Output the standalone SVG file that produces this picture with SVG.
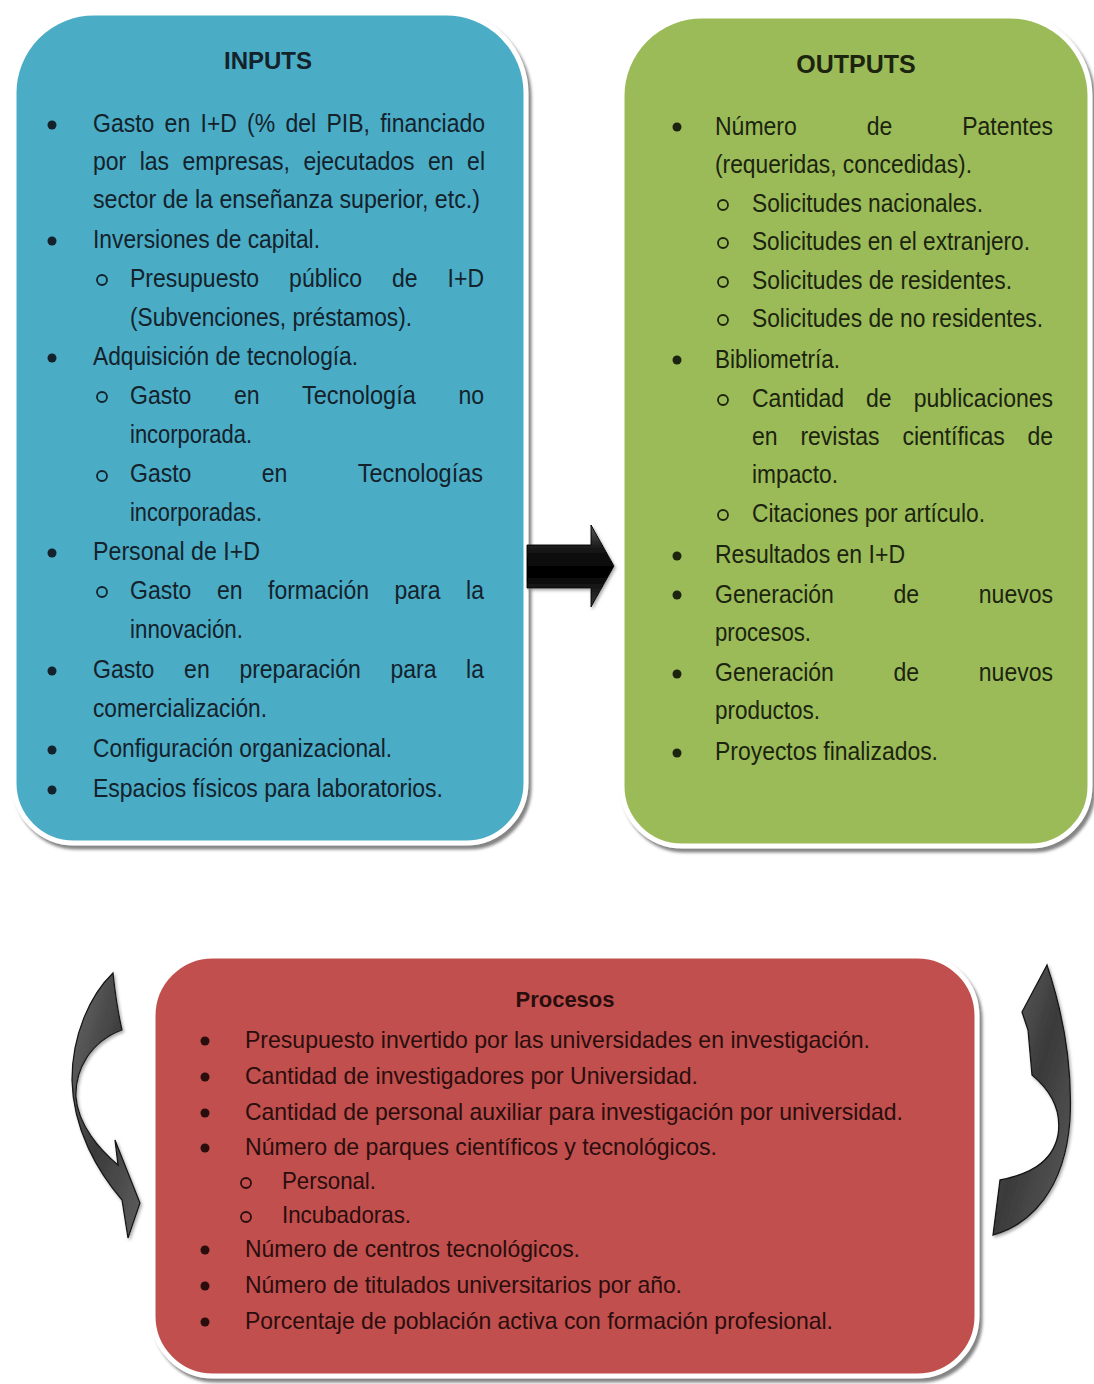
<svg xmlns="http://www.w3.org/2000/svg" width="1094" height="1384" viewBox="0 0 1094 1384">
<style>
.t{font-family:"Liberation Sans",Arial,sans-serif;font-size:25px}
.tp{font-family:"Liberation Sans",Arial,sans-serif;font-size:24px}
.h{font-family:"Liberation Sans",Arial,sans-serif;font-weight:bold;text-anchor:middle}
.bi{fill:#13222b}
.bo{fill:#1c2410}
.bp{fill:#2a0d0d}
.box{stroke:#ffffff;stroke-width:5;filter:url(#sh)}
.sub{fill:none;stroke-width:1.8}
.curv{fill:url(#cg);stroke:#151515;stroke-width:1.3;filter:url(#sh2)}
</style>
<defs>
<filter id="sh" x="-5%" y="-5%" width="110%" height="110%">
<feDropShadow dx="3" dy="4" stdDeviation="1.8" flood-color="#6e6e6e" flood-opacity="0.85"/>
</filter>
<filter id="sh2" x="-20%" y="-10%" width="140%" height="120%">
<feDropShadow dx="1.5" dy="2" stdDeviation="1.5" flood-color="#888" flood-opacity="0.7"/>
</filter>
<linearGradient id="ag" x1="0" y1="0" x2="0" y2="1">
<stop offset="0" stop-color="#5a5a5a"/>
<stop offset="0.3" stop-color="#141414"/>
<stop offset="0.6" stop-color="#000"/>
<stop offset="1" stop-color="#3a3a3a"/>
</linearGradient>
<linearGradient id="cg" x1="0" y1="0" x2="1" y2="1">
<stop offset="0" stop-color="#6a6a6a"/>
<stop offset="0.5" stop-color="#3a3a3a"/>
<stop offset="1" stop-color="#5e5e5e"/>
</linearGradient>
</defs>
<rect width="1094" height="1384" fill="#ffffff"/>

<g id="inputs">
<path class="box" fill="#4bacc6" d="M94,13 H446 A80,80 0 0 1 526,93 V783 A60,60 0 0 1 466,843 H74 A60,60 0 0 1 14,783 V93 A80,80 0 0 1 94,13 Z"/>
<text class="h bi" x="268" y="69" font-size="24">INPUTS</text>
<g class="bi">
<circle cx="52" cy="125" r="4.5"/><circle cx="52" cy="241" r="4.5"/><circle cx="52" cy="358" r="4.5"/><circle cx="52" cy="553" r="4.5"/><circle cx="52" cy="671" r="4.5"/><circle cx="52" cy="750" r="4.5"/><circle cx="52" cy="790" r="4.5"/>
</g>
<g stroke="#13222b" class="sub">
<circle cx="102" cy="280" r="5"/><circle cx="102" cy="397" r="5"/><circle cx="102" cy="476" r="5"/><circle cx="102" cy="592" r="5"/>
</g>
<g class="t bi" lengthAdjust="spacingAndGlyphs">
<text x="93" y="132" textLength="61.4" lengthAdjust="spacingAndGlyphs">Gasto</text><text x="164.6" y="132" textLength="25.6" lengthAdjust="spacingAndGlyphs">en</text><text x="200.5" y="132" textLength="36.4" lengthAdjust="spacingAndGlyphs">I+D</text><text x="247.1" y="132" textLength="28.1" lengthAdjust="spacingAndGlyphs">(%</text><text x="285.5" y="132" textLength="30.7" lengthAdjust="spacingAndGlyphs">del</text><text x="326.4" y="132" textLength="43.5" lengthAdjust="spacingAndGlyphs">PIB,</text><text x="380.2" y="132" textLength="104.8" lengthAdjust="spacingAndGlyphs">financiado</text>
<text x="93" y="170" textLength="33.2" lengthAdjust="spacingAndGlyphs">por</text><text x="139.7" y="170" textLength="29.4" lengthAdjust="spacingAndGlyphs">las</text><text x="182.5" y="170" textLength="107.4" lengthAdjust="spacingAndGlyphs">empresas,</text><text x="303.4" y="170" textLength="111.2" lengthAdjust="spacingAndGlyphs">ejecutados</text><text x="428" y="170" textLength="25.6" lengthAdjust="spacingAndGlyphs">en</text><text x="467.1" y="170" textLength="17.9" lengthAdjust="spacingAndGlyphs">el</text>
<text x="93" y="208" textLength="387" lengthAdjust="spacingAndGlyphs">sector de la enseñanza superior, etc.)</text>
<text x="93" y="248" textLength="227" lengthAdjust="spacingAndGlyphs">Inversiones de capital.</text>
<text x="130" y="287" textLength="129.1" lengthAdjust="spacingAndGlyphs">Presupuesto</text><text x="289.1" y="287" textLength="72.9" lengthAdjust="spacingAndGlyphs">público</text><text x="392" y="287" textLength="25.6" lengthAdjust="spacingAndGlyphs">de</text><text x="447.6" y="287" textLength="36.4" lengthAdjust="spacingAndGlyphs">I+D</text>
<text x="130" y="326" textLength="282" lengthAdjust="spacingAndGlyphs">(Subvenciones, préstamos).</text>
<text x="93" y="365" textLength="265" lengthAdjust="spacingAndGlyphs">Adquisición de tecnología.</text>
<text x="130" y="404" textLength="61.4" lengthAdjust="spacingAndGlyphs">Gasto</text><text x="233.9" y="404" textLength="25.6" lengthAdjust="spacingAndGlyphs">en</text><text x="302" y="404" textLength="113.8" lengthAdjust="spacingAndGlyphs">Tecnología</text><text x="458.4" y="404" textLength="25.6" lengthAdjust="spacingAndGlyphs">no</text>
<text x="130" y="443" textLength="122" lengthAdjust="spacingAndGlyphs">incorporada.</text>
<text x="130" y="482" textLength="61.4" lengthAdjust="spacingAndGlyphs">Gasto</text><text x="261.7" y="482" textLength="25.6" lengthAdjust="spacingAndGlyphs">en</text><text x="357.7" y="482" textLength="125.3" lengthAdjust="spacingAndGlyphs">Tecnologías</text>
<text x="130" y="521" textLength="132" lengthAdjust="spacingAndGlyphs">incorporadas.</text>
<text x="93" y="560" textLength="167" lengthAdjust="spacingAndGlyphs">Personal de I+D</text>
<text x="130" y="599" textLength="61.4" lengthAdjust="spacingAndGlyphs">Gasto</text><text x="216.9" y="599" textLength="25.6" lengthAdjust="spacingAndGlyphs">en</text><text x="268" y="599" textLength="101" lengthAdjust="spacingAndGlyphs">formación</text><text x="394.5" y="599" textLength="46" lengthAdjust="spacingAndGlyphs">para</text><text x="466.1" y="599" textLength="17.9" lengthAdjust="spacingAndGlyphs">la</text>
<text x="130" y="638" textLength="113" lengthAdjust="spacingAndGlyphs">innovación.</text>
<text x="93" y="678" textLength="61.4" lengthAdjust="spacingAndGlyphs">Gasto</text><text x="184.1" y="678" textLength="25.6" lengthAdjust="spacingAndGlyphs">en</text><text x="239.4" y="678" textLength="121.4" lengthAdjust="spacingAndGlyphs">preparación</text><text x="390.5" y="678" textLength="46" lengthAdjust="spacingAndGlyphs">para</text><text x="466.1" y="678" textLength="17.9" lengthAdjust="spacingAndGlyphs">la</text>
<text x="93" y="717" textLength="174" lengthAdjust="spacingAndGlyphs">comercialización.</text>
<text x="93" y="757" textLength="299" lengthAdjust="spacingAndGlyphs">Configuración organizacional.</text>
<text x="93" y="797" textLength="350" lengthAdjust="spacingAndGlyphs">Espacios físicos para laboratorios.</text>
</g>
</g>

<g id="outputs">
<path class="box" fill="#9bbb59" d="M702,16 H1010 A80,80 0 0 1 1090,96 V786 A60,60 0 0 1 1030,846 H682 A60,60 0 0 1 622,786 V96 A80,80 0 0 1 702,16 Z"/>
<text class="h bo" x="856" y="73" font-size="25">OUTPUTS</text>
<g class="bo">
<circle cx="677" cy="127" r="4.5"/><circle cx="677" cy="360" r="4.5"/><circle cx="677" cy="556" r="4.5"/><circle cx="677" cy="595" r="4.5"/><circle cx="677" cy="674" r="4.5"/><circle cx="677" cy="753" r="4.5"/>
</g>
<g stroke="#1c2410" class="sub">
<circle cx="723" cy="205" r="5"/><circle cx="723" cy="243" r="5"/><circle cx="723" cy="282" r="5"/><circle cx="723" cy="320" r="5"/><circle cx="723" cy="400" r="5"/><circle cx="723" cy="515" r="5"/>
</g>
<g class="t bo">
<text x="715" y="135" textLength="81.8" lengthAdjust="spacingAndGlyphs">Número</text><text x="866.7" y="135" textLength="25.6" lengthAdjust="spacingAndGlyphs">de</text><text x="962.2" y="135" textLength="90.8" lengthAdjust="spacingAndGlyphs">Patentes</text>
<text x="715" y="173" textLength="257" lengthAdjust="spacingAndGlyphs">(requeridas, concedidas).</text>
<text x="752" y="212" textLength="231" lengthAdjust="spacingAndGlyphs">Solicitudes nacionales.</text>
<text x="752" y="250" textLength="278" lengthAdjust="spacingAndGlyphs">Solicitudes en el extranjero.</text>
<text x="752" y="289" textLength="260" lengthAdjust="spacingAndGlyphs">Solicitudes de residentes.</text>
<text x="752" y="327" textLength="291" lengthAdjust="spacingAndGlyphs">Solicitudes de no residentes.</text>
<text x="715" y="368" textLength="125" lengthAdjust="spacingAndGlyphs">Bibliometría.</text>
<text x="752" y="407" textLength="92" lengthAdjust="spacingAndGlyphs">Cantidad</text><text x="866" y="407" textLength="25.6" lengthAdjust="spacingAndGlyphs">de</text><text x="913.7" y="407" textLength="139.3" lengthAdjust="spacingAndGlyphs">publicaciones</text>
<text x="752" y="445" textLength="25.6" lengthAdjust="spacingAndGlyphs">en</text><text x="800.4" y="445" textLength="79.2" lengthAdjust="spacingAndGlyphs">revistas</text><text x="902.4" y="445" textLength="102.3" lengthAdjust="spacingAndGlyphs">científicas</text><text x="1027.4" y="445" textLength="25.6" lengthAdjust="spacingAndGlyphs">de</text>
<text x="752" y="483" textLength="86" lengthAdjust="spacingAndGlyphs">impacto.</text>
<text x="752" y="522" textLength="233" lengthAdjust="spacingAndGlyphs">Citaciones por artículo.</text>
<text x="715" y="563" textLength="190" lengthAdjust="spacingAndGlyphs">Resultados en I+D</text>
<text x="715" y="603" textLength="118.9" lengthAdjust="spacingAndGlyphs">Generación</text><text x="893.5" y="603" textLength="25.6" lengthAdjust="spacingAndGlyphs">de</text><text x="978.8" y="603" textLength="74.2" lengthAdjust="spacingAndGlyphs">nuevos</text>
<text x="715" y="641" textLength="96" lengthAdjust="spacingAndGlyphs">procesos.</text>
<text x="715" y="681" textLength="118.9" lengthAdjust="spacingAndGlyphs">Generación</text><text x="893.5" y="681" textLength="25.6" lengthAdjust="spacingAndGlyphs">de</text><text x="978.8" y="681" textLength="74.2" lengthAdjust="spacingAndGlyphs">nuevos</text>
<text x="715" y="719" textLength="105" lengthAdjust="spacingAndGlyphs">productos.</text>
<text x="715" y="760" textLength="223" lengthAdjust="spacingAndGlyphs">Proyectos finalizados.</text>
</g>
</g>

<g id="procesos">
<path class="box" fill="#c0504d" d="M213,956 H917 A60,60 0 0 1 977,1016 V1316 A60,60 0 0 1 917,1376 H213 A60,60 0 0 1 153,1316 V1016 A60,60 0 0 1 213,956 Z"/>
<text class="h bp" x="565" y="1007" font-size="22">Procesos</text>
<g class="bp">
<circle cx="205" cy="1041" r="4.5"/><circle cx="205" cy="1077" r="4.5"/><circle cx="205" cy="1113" r="4.5"/><circle cx="205" cy="1148" r="4.5"/><circle cx="205" cy="1250" r="4.5"/><circle cx="205" cy="1286" r="4.5"/><circle cx="205" cy="1322" r="4.5"/>
</g>
<g stroke="#2a0d0d" class="sub">
<circle cx="246" cy="1183" r="5"/><circle cx="246" cy="1217" r="5"/>
</g>
<g class="tp bp">
<text x="245" y="1048" textLength="625" lengthAdjust="spacingAndGlyphs">Presupuesto invertido por las universidades en investigación.</text>
<text x="245" y="1084" textLength="453" lengthAdjust="spacingAndGlyphs">Cantidad de investigadores por Universidad.</text>
<text x="245" y="1120" textLength="658" lengthAdjust="spacingAndGlyphs">Cantidad de personal auxiliar para investigación por universidad.</text>
<text x="245" y="1155" textLength="472" lengthAdjust="spacingAndGlyphs">Número de parques científicos y tecnológicos.</text>
<text x="282" y="1189" textLength="94" lengthAdjust="spacingAndGlyphs">Personal.</text>
<text x="282" y="1223" textLength="129" lengthAdjust="spacingAndGlyphs">Incubadoras.</text>
<text x="245" y="1257" textLength="335" lengthAdjust="spacingAndGlyphs">Número de centros tecnológicos.</text>
<text x="245" y="1293" textLength="437" lengthAdjust="spacingAndGlyphs">Número de titulados universitarios por año.</text>
<text x="245" y="1329" textLength="588" lengthAdjust="spacingAndGlyphs">Porcentaje de población activa con formación profesional.</text>
</g>
</g>

<g id="connectors">
<path fill="url(#ag)" stroke="#000" stroke-width="1" filter="url(#sh2)" d="M527,545 L591,545 L591,525 L614,566 L591,607 L591,588 L527,588 Z"/>
<path class="curv" d="M113,973 C90,995 72,1035 72,1080 C73,1130 98,1172 122,1200 L128,1238 L140,1203 L115,1140 L118,1165 C100,1150 78,1125 76,1097 C75,1070 90,1042 122,1030 C118,1012 115,992 113,973 Z"/>
<path class="curv" d="M1047,965 L1022,1012 L1028,1030 L1032,1075 C1050,1090 1062,1110 1058,1135 C1052,1165 1025,1175 1000,1180 L993,1235 C1030,1225 1065,1190 1070,1120 C1073,1060 1062,1010 1047,965 Z"/>
</g>
</svg>
